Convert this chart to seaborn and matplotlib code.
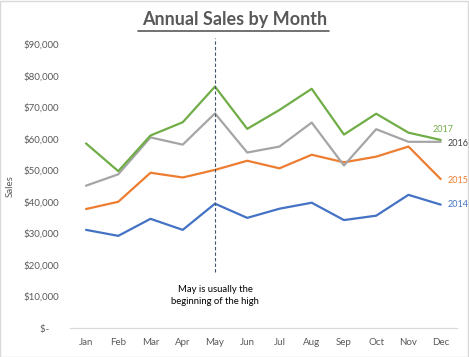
import matplotlib
matplotlib.use("Agg")
import matplotlib.pyplot as plt
import seaborn as sns
import pandas as pd
from matplotlib.patches import Rectangle
from matplotlib.ticker import FuncFormatter

months = ["Jan", "Feb", "Mar", "Apr", "May", "Jun", "Jul", "Aug", "Sep", "Oct", "Nov", "Dec"]
sales_2014 = [31100, 29200, 34600, 31100, 39400, 34900, 37800, 39700, 34200, 35600, 42200, 39100]
sales_2015 = [37700, 40000, 49200, 47700, 50100, 53000, 50600, 54900, 52500, 54300, 57500, 47200]
sales_2016 = [45100, 48700, 60400, 58100, 68000, 55600, 57500, 65100, 51500, 63000, 59000, 59000]
sales_2017 = [58500, 49700, 61000, 65200, 76500, 63100, 69100, 75800, 61300, 67900, 61900, 59600]
years = ["2014", "2015", "2016", "2017"]
colors = {"2014": "#4472C4", "2015": "#ED7D31", "2016": "#A5A5A5", "2017": "#70AD47"}
label_colors = {"2014": "#4472C4", "2015": "#ED7D31", "2016": "#404040", "2017": "#70AD47"}

rows = []
for yr, vals in zip(years, [sales_2014, sales_2015, sales_2016, sales_2017]):
    for i, v in enumerate(vals):
        rows.append({"idx": i, "Month": months[i], "Sales": v, "Year": yr})
df = pd.DataFrame(rows)

sns.set_style("white")
plt.rcParams["font.family"] = ["Lato", "DejaVu Sans"]

fig = plt.figure(figsize=(4.69, 3.57), dpi=100)
ax = fig.add_axes([0.149, 0.0812, 0.825, 0.7956])

sns.lineplot(data=df, x="idx", y="Sales", hue="Year", palette=colors, linewidth=1.6,
             ax=ax, legend=False, sort=False)

ax.set_xlim(-0.5, 11.5)
ax.set_ylim(0, 90000)
ax.set_yticks(range(0, 90001, 10000))
ax.yaxis.set_major_formatter(FuncFormatter(lambda v, p: "$-    " if v == 0 else f"${v:,.0f}"))
ax.set_xticks(range(12))
ax.set_xticklabels(months)
ax.tick_params(axis="both", length=0, labelsize=7, labelcolor="#595959")
ax.tick_params(axis="x", pad=7)
ax.tick_params(axis="y", pad=8)
ax.set_xlabel("")
ax.set_ylabel("Sales", fontsize=7, color="#595959", labelpad=6)
for s in ["top", "right", "left"]:
    ax.spines[s].set_visible(False)
ax.spines["bottom"].set_color("#D9D9D9")
ax.spines["bottom"].set_linewidth(0.9)

# end labels
label_pos = {"2017": (10.75, 62800), "2016": (11.2, 58500), "2015": (11.2, 46800), "2014": (11.2, 39200)}
for yr in years:
    x, y = label_pos[yr]
    ax.text(x, y, yr, fontsize=6.5, color=label_colors[yr],
            ha="left", va="center", clip_on=False)

# dashed reference line at May
ax.plot([4, 4], [17700, 91800], linestyle=(0, (3, 2)), color="#44546A", linewidth=0.8, clip_on=False)
ax.text(4, 10300, "May is usually the\nbeginning of the high", ha="center", va="center",
        fontsize=6.8, color="#000000", linespacing=1.5)

fig.text(0.5, 0.945, "Annual Sales by Month", ha="center", va="center", fontsize=13,
         fontweight="bold", color="#595959")
# underline
fig.add_artist(plt.Line2D([137.5 / 469, 329 / 469], [1 - 31 / 357, 1 - 31 / 357],
                          color="#595959", linewidth=1.2, transform=fig.transFigure))

fig.add_artist(Rectangle((0.001, 0.001), 0.997, 0.996, transform=fig.transFigure,
                         fill=False, edgecolor="#D9D9D9", linewidth=1))

fig.savefig("out.png", dpi=100)
